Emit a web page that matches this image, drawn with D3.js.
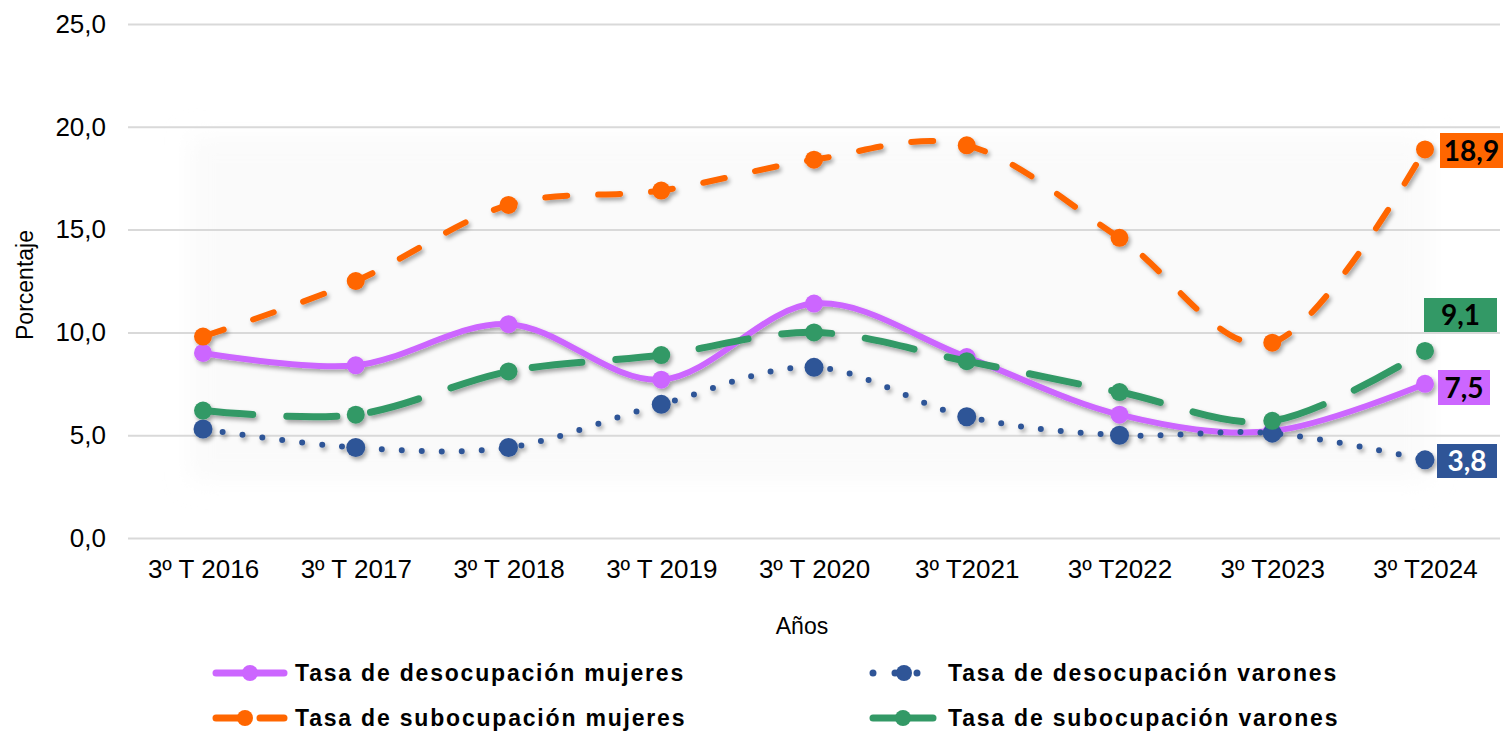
<!DOCTYPE html>
<html>
<head>
<meta charset="utf-8">
<script src="https://cdn.jsdelivr.net/npm/d3@7"></script>
<style>
  body { margin: 0; background: #fff; }
  svg { display: block; }
</style>
</head>
<body>
<script>
// categories and series
var years = ['3º T 2016', '3º T 2017', '3º T 2018', '3º T 2019', '3º T 2020', '3º T2021', '3º T2022', '3º T2023', '3º T2024'];
var desocMujeres = [9.0, 8.4, 10.4, 7.7, 11.4, 8.8, 6.0, 5.2, 7.5];
var desocVarones = [5.3, 4.4, 4.4, 6.5, 8.3, 5.9, 5.0, 5.1, 3.8];
var subocMujeres = [9.8, 12.5, 16.2, 16.9, 18.4, 19.1, 14.6, 9.5, 18.9];
var subocVarones = [6.2, 6.0, 8.1, 8.9, 10.0, 8.6, 7.1, 5.7, 9.1];
var yTicks = [0, 5, 10, 15, 20, 25];

var w = 1503;
var h = 734;

var svg = d3.select('body').append('svg')
            .attr('width', w)
            .attr('height', h);

var defs = svg.append('defs');
var shadow = defs.append('filter').attr('id', 'shadow')
                 .attr('x', '-20%').attr('y', '-20%').attr('width', '140%').attr('height', '160%');
shadow.append('feDropShadow')
      .attr('dx', 2).attr('dy', 3)
      .attr('stdDeviation', 2)
      .attr('flood-color', '#000')
      .attr('flood-opacity', 0.35);
var soft = defs.append('filter').attr('id', 'soft')
               .attr('x', '-10%').attr('y', '-10%').attr('width', '120%').attr('height', '120%');
soft.append('feGaussianBlur').attr('stdDeviation', 12);

var x = d3.scalePoint()
          .domain(years)
          .range([203, 1425]);

var y = d3.scaleLinear()
          .domain([0, 25])
          .range([538, 24]);

// very faint panel behind the lines
svg.append('rect')
   .attr('x', 190).attr('y', y(19.5))
   .attr('width', 1240).attr('height', y(2.8) - y(19.5))
   .attr('fill', '#fafafa')
   .attr('filter', 'url(#soft)');

// grid + y labels
var yAxis = d3.axisLeft(y)
              .tickValues(yTicks)
              .tickSize(-(1500 - 128))
              .tickPadding(22)
              .tickFormat(function(d){ return d3.format('.1f')(d).replace('.', ','); });

var gy = svg.append('g')
            .attr('transform', 'translate(128,0)')
            .call(yAxis);
gy.select('.domain').remove();
gy.selectAll('line').attr('stroke', '#d9d9d9').attr('stroke-width', 2);
gy.selectAll('text')
  .style('font-family', 'Liberation Sans, Arial, sans-serif')
  .style('font-size', '26px')
  .attr('fill', '#000');

// x labels
var xAxis = d3.axisBottom(x).tickSize(0).tickPadding(0);
var gx = svg.append('g')
            .attr('transform', 'translate(0,' + 560 + ')')
            .call(xAxis);
gx.select('.domain').remove();
gx.selectAll('text')
  .style('font-family', 'Liberation Sans, Arial, sans-serif')
  .style('font-size', '26px')
  .attr('fill', '#000');

// axis titles
svg.append('text')
   .attr('x', 802).attr('y', 634)
   .attr('text-anchor', 'middle')
   .style('font-family', 'Liberation Sans, Arial, sans-serif')
   .style('font-size', '23px')
   .text('Años');

svg.append('text')
   .attr('transform', 'translate(33,285) rotate(-90)')
   .attr('text-anchor', 'middle')
   .style('font-family', 'Liberation Sans, Arial, sans-serif')
   .style('font-size', '23px')
   .text('Porcentaje');

var series = [
  { name: 'Tasa de desocupación mujeres', values: desocMujeres, color: '#cc66ff', width: 6, dash: null, r: 9, label: '7,5', labelFill: '#cc66ff', labelText: '#000', box: [1438, 370, 52, 35] },
  { name: 'Tasa de desocupación varones', values: desocVarones, color: '#2f5597', width: 6, dash: '0,20', r: 9.5, label: '3,8', labelFill: '#2f5597', labelText: '#fff', box: [1437, 444, 60, 34] },
  { name: 'Tasa de subocupación mujeres', values: subocMujeres, color: '#ff6600', width: 6, dash: '22,31', r: 9, label: '18,9', labelFill: '#ff6600', labelText: '#000', box: [1440, 133, 63, 35] },
  { name: 'Tasa de subocupación varones', values: subocVarones, color: '#339966', width: 7, dash: '50,34', r: 9, label: '9,1', labelFill: '#339966', labelText: '#000', box: [1424, 298, 73, 34] }
];

var line = d3.line()
             .x(function(d, i){ return x(years[i]); })
             .y(function(d){ return y(d); })
             .curve(d3.curveCardinal.tension(0));

var plot = svg.append('g').attr('filter', 'url(#shadow)');

series.forEach(function(s){
  var g = plot.append('g');
  g.append('path')
   .datum(s.values)
   .attr('d', line)
   .attr('fill', 'none')
   .attr('stroke', s.color)
   .attr('stroke-width', s.width)
   .attr('stroke-linecap', 'round')
   .attr('stroke-dasharray', s.dash);

  g.selectAll('circle')
   .data(s.values)
   .enter()
   .append('circle')
   .attr('cx', function(d, i){ return x(years[i]); })
   .attr('cy', function(d){ return y(d); })
   .attr('r', s.r)
   .attr('fill', s.color);
});

// end labels
series.forEach(function(s){
  var b = s.box;
  svg.append('rect')
     .attr('x', b[0]).attr('y', b[1])
     .attr('width', b[2]).attr('height', b[3])
     .attr('fill', s.labelFill);
  svg.append('text')
     .attr('x', b[0] + b[2] / 2)
     .attr('y', b[1] + b[3] / 2 + 10)
     .attr('text-anchor', 'middle')
     .style('font-family', 'Lato, Open Sans, sans-serif')
     .style('font-weight', 'bold')
     .style('font-size', '28px')
     .attr('fill', s.labelText)
     .text(s.label);
});

// legend
var legendPos = [
  { x0: 213, x1: 287, tx: 295, cy: 673 },
  { x0: 870, x1: 938, tx: 948, cy: 673 },
  { x0: 213, x1: 287, tx: 295, cy: 718 },
  { x0: 870, x1: 936, tx: 948, cy: 718 }
];

series.forEach(function(s, i){
  var p = legendPos[i];
  var g = svg.append('g');
  var dash = s.dash;
  if (i === 1) dash = '0,22';
  if (i === 2) dash = '26,18';
  if (i === 3) dash = null;
  g.append('line')
   .attr('x1', p.x0 + 3).attr('x2', p.x1 - 3)
   .attr('y1', p.cy).attr('y2', p.cy)
   .attr('stroke', s.color)
   .attr('stroke-width', 7)
   .attr('stroke-linecap', 'round')
   .attr('stroke-dasharray', dash);
  g.append('circle')
   .attr('cx', (p.x0 + p.x1) / 2 + (i === 2 ? -5 : 0))
   .attr('cy', p.cy)
   .attr('r', 8)
   .attr('fill', s.color);
  g.append('text')
   .attr('x', p.tx)
   .attr('y', p.cy + 8)
   .style('font-family', 'Liberation Sans, Arial, sans-serif')
   .style('font-weight', 'bold')
   .style('font-size', '23px')
   .style('letter-spacing', '1.8px')
   .text(s.name);
});
</script>
</body>
</html>
